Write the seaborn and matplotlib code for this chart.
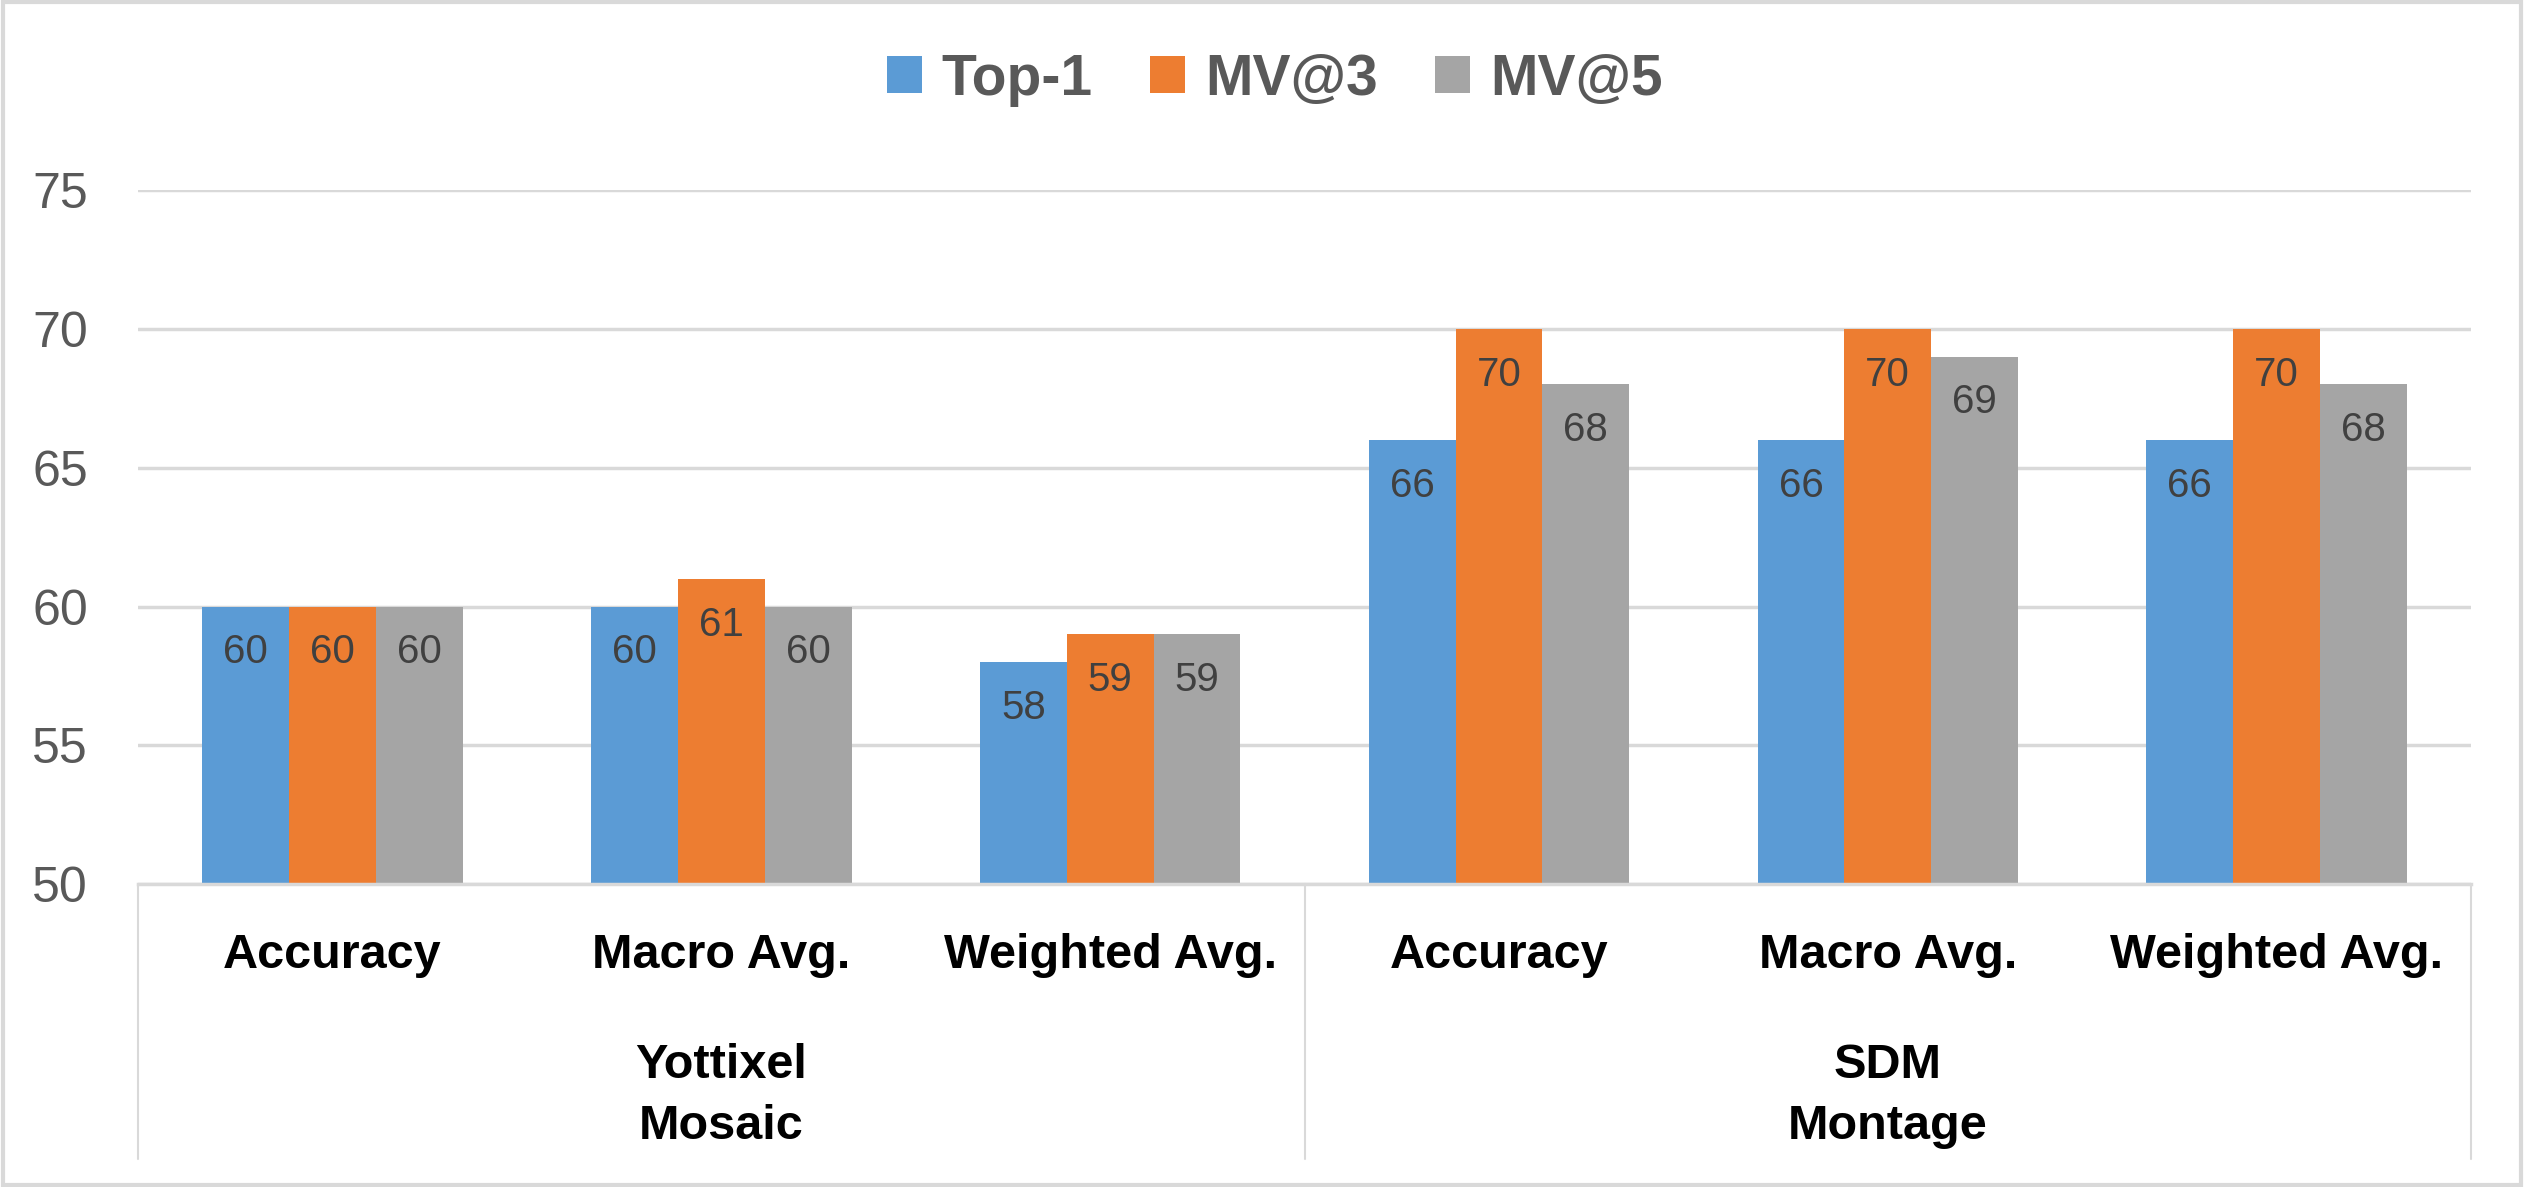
import matplotlib
matplotlib.use("Agg")
import matplotlib.pyplot as plt
import matplotlib.transforms as mtransforms
from matplotlib.patches import Rectangle
import seaborn as sns
import pandas as pd

# ---- data ----
metrics = ["Accuracy", "Macro Avg.", "Weighted Avg.", "Accuracy", "Macro Avg.", "Weighted Avg."]
groups = ["Yottixel\nMosaic", "SDM\nMontage"]
series = ["Top-1", "MV@3", "MV@5"]
top1 = [60, 60, 58, 66, 66, 66]
mv3 = [60, 61, 59, 70, 70, 70]
mv5 = [60, 60, 59, 68, 69, 68]
yticks = [50, 55, 60, 65, 70, 75]

colors = {"Top-1": "#5B9BD5", "MV@3": "#ED7D31", "MV@5": "#A5A5A5"}

keys = [f"{i}" for i in range(len(metrics))]
rows = []
for s, vals in zip(series, [top1, mv3, mv5]):
    for k, v in zip(keys, vals):
        rows.append({"cat": k, "series": s, "value": v})
df = pd.DataFrame(rows)

sns.set_theme(style="white")
FONT = ["Liberation Sans", "DejaVu Sans"]
plt.rcParams["font.family"] = FONT

fig = plt.figure(figsize=(25.24, 11.87), dpi=100)
ax = fig.add_axes([0.0547, 0.255, 0.979 - 0.0547, 0.840 - 0.255])

sns.barplot(data=df, x="cat", y="value", hue="series", order=keys,
            hue_order=series, palette=colors, width=0.67, gap=0,
            saturation=1, ax=ax, legend=True, edgecolor="none", linewidth=0)

ax.set_ylim(50, 75)
ax.set_xlim(-0.5, len(keys) - 0.5)
ax.set_yticks(yticks)
ax.set_yticklabels([str(t) for t in yticks])
ax.tick_params(axis="y", length=0, pad=36, labelsize=36, labelcolor="#595959")
ax.tick_params(axis="x", length=0, labelbottom=False)
ax.set_xlabel("")
ax.set_ylabel("")
ax.yaxis.grid(True, color="#D9D9D9", linewidth=2.5)
ax.set_axisbelow(True)
for side in ["top", "right", "left"]:
    ax.spines[side].set_visible(False)
ax.spines["bottom"].set_color("#D9D9D9")
ax.spines["bottom"].set_linewidth(2.5)

# data labels inside bar tops
for cont in ax.containers:
    for p in cont:
        h = p.get_height()
        ax.annotate(f"{h:.0f}", (p.get_x() + p.get_width() / 2, h),
                    xytext=(0, -33), textcoords="offset points",
                    ha="center", va="center", fontsize=29, color="#404040")

# category labels
trans = mtransforms.blended_transform_factory(ax.transData, ax.transAxes)
for i, m in enumerate(metrics):
    ax.text(i, -0.102, m, transform=trans, ha="center", va="center",
            fontsize=35, fontweight="bold", color="black")
for g, name in enumerate(groups):
    ax.text(g * 3 + 1, -0.305, name, transform=trans, ha="center", va="center",
            fontsize=35, fontweight="bold", color="black", linespacing=1.45)
for xv in [-0.5, 2.5, 5.5]:
    ax.plot([xv, xv], [0, -0.396], transform=trans, color="#D9D9D9",
            linewidth=1.5, clip_on=False)

# legend
handles, labels = ax.get_legend_handles_labels()
if ax.get_legend() is not None:
    ax.get_legend().remove()
leg = fig.legend(handles, labels, loc="center", bbox_to_anchor=(0.505, 0.933),
                 ncol=3, frameon=False, handlelength=0.62, handleheight=0.62,
                 handletextpad=0.35, columnspacing=1.0,
                 prop={"family": FONT, "weight": "bold", "size": 41})
for t in leg.get_texts():
    t.set_color("#595959")

# outer border
fig.patches.append(Rectangle((0.001, 0.002), 0.998, 0.996, transform=fig.transFigure,
                             fill=False, edgecolor="#D9D9D9", linewidth=3))

fig.savefig("out.png", dpi=100)
